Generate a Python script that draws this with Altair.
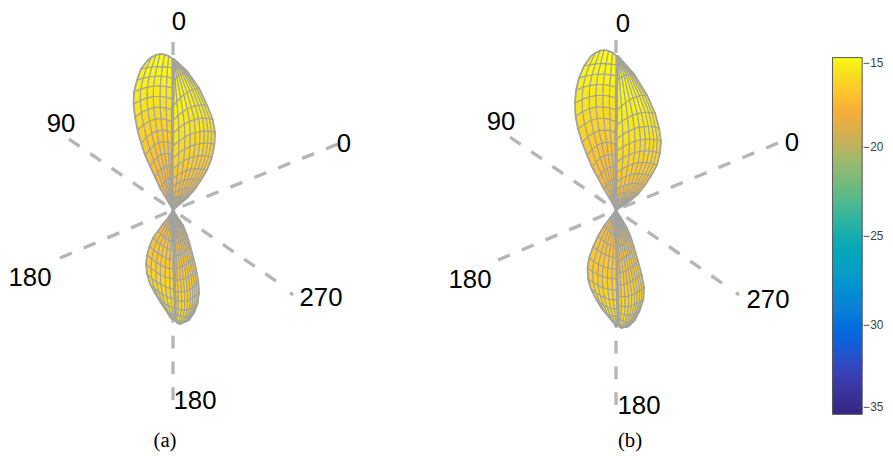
import altair as alt

# --- colour bar
BAR_VALUES = [-35, -30, -25, -20, -15]
SCALE_DOMAIN = [-35, -33, -31, -29, -27, -25, -23, -21, -20, -19, -18, -17, -16, -15]
SCALE_RANGE = ["#35277f", "#3a3bb0", "#0f5fdc", "#0d80d8", "#0a9ec6", "#14adae", "#52b98c",
               "#94ba70", "#bdb35e", "#dcb04c", "#f7ad38", "#ffc32e", "#f6dd20", "#f9fb15"]
BAR_TICK_Y = [145, 234, 323]

# --- spokes: each runs from its outer end to the panel's centre
AXES_A = [[(173, 40), (173, 208)], [(173, 398), (173, 208)], [(69, 137), (173, 208)],
          [(276, 279), (173, 208)], [(293, 293), (290, 290.5)], [(338, 142), (173, 208)],
          [(60, 256), (173, 208)]]
AXES_B = [[(616, 38), (616, 208)], [(616, 403), (616, 208)], [(510, 135), (616, 208)],
          [(722, 281), (616, 208)], [(739, 293), (736, 290.5)], [(778, 141), (616, 208)],
          [(498, 258), (616, 208)]]

LABELS = [("0", 179, 20), ("90", 61, 122), ("0", 344, 142), ("180", 30, 276),
          ("270", 321, 296), ("180", 195, 399),
          ("0", 623, 22), ("90", 501, 120), ("0", 792, 141), ("180", 470, 278),
          ("270", 768, 298), ("180", 639, 404)]
CAPTIONS = [("(a)", 165, 439), ("(b)", 630, 439)]

# --- lobes: rim and seam end of each parallel, apex first
UP_A_LEFT = [(173, 208), (166, 196), (160, 186), (155, 175), (150, 164), (145, 153), (141, 141),
             (137.5, 128), (135, 115), (133.5, 102), (134, 90), (137, 78), (141, 67), (147, 59)]
UP_A_LEFT_SEAM = [(173, 208), (172, 188), (172, 176), (172, 165), (172, 153), (172.5, 142), (172.5, 131),
                  (172.5, 120), (172.5, 108), (173, 97), (173, 86), (173, 76), (173, 66), (173, 57)]
UP_A_RIGHT = [(173, 208), (181, 201), (188, 195), (195, 187), (201, 178), (207, 168), (212, 155),
              (214.5, 142), (215, 130), (212.5, 117), (207, 103), (199, 86), (187, 69), (174, 57)]
UP_A_RIGHT_SEAM = [(173, 208), (172, 204), (172, 198), (172, 192), (172, 185), (172, 177), (172.5, 167),
                   (172.5, 156), (172.5, 144), (173, 131), (173, 118), (173, 104), (173, 80), (173, 57)]

LOW_A_LEFT = [(173, 208), (168, 216), (163, 222), (158, 229), (153, 236), (149.5, 244), (147, 253),
              (146, 262), (147, 272), (150, 282), (155, 291), (161, 301), (168, 311)]
LOW_A_LEFT_SEAM = [(173, 208), (173, 222), (173.5, 231), (173.5, 240), (174, 249), (174, 258), (174, 267),
                   (174.5, 277), (174.5, 287), (175, 297), (175, 306), (175, 313), (175, 316)]
LOW_A_RIGHT = [(173, 208), (178, 216), (183, 223), (187, 233), (190, 243), (193.5, 256), (196.5, 269),
               (198.5, 281), (199, 291), (197.5, 302), (194, 311), (189, 318), (182, 321)]
LOW_A_RIGHT_SEAM = [(173, 208), (173, 221), (173.5, 232), (173.5, 243), (174, 254), (174, 266), (174, 278),
                    (174.5, 289), (174.5, 298), (175, 306), (175, 312), (175, 316), (175, 318)]

UP_B_LEFT = [(616, 208), (610, 197), (604, 187), (598, 176), (592, 165), (587, 153), (582, 140),
             (578, 127), (575.5, 114), (575, 101), (576, 88), (579, 76), (584, 64), (591, 54)]
UP_B_LEFT_SEAM = [(616, 208), (616, 189), (616, 177), (616, 166), (616, 154), (616, 143), (616, 131),
                  (616.5, 120), (616.5, 108), (616.5, 96), (616.5, 85), (617, 74), (617, 63), (617, 54)]
UP_B_RIGHT = [(616, 208), (624, 203), (631, 198), (638, 192), (645, 183), (651, 174), (657, 163),
              (660, 151), (661, 139), (659, 126), (655, 111), (647, 93), (634, 72), (618, 54)]
UP_B_RIGHT_SEAM = [(616, 208), (616, 205), (616, 200), (616, 194), (616, 188), (616, 180), (616, 171),
                   (616.5, 160), (616.5, 149), (616.5, 137), (616.5, 123), (617, 108), (617, 78), (617, 54)]

LOW_B_LEFT = [(616, 208), (610, 216), (604, 224), (598, 234), (593, 245), (589, 256), (587.5, 266),
              (588, 277), (591, 287), (596, 297), (602, 307), (609, 315), (615, 321)]
LOW_B_LEFT_SEAM = [(616, 208), (616, 223), (616.5, 234), (616.5, 245), (617, 256), (617, 267), (617, 277),
                   (617.5, 288), (617.5, 298), (618, 307), (618, 314), (618, 319), (618, 322)]
LOW_B_RIGHT = [(616, 208), (621, 216), (626, 224), (630, 233), (634, 245), (638, 259), (641.5, 272),
               (644, 285), (643.5, 297), (640, 308), (635, 318), (629, 324), (623, 325)]
LOW_B_RIGHT_SEAM = [(616, 208), (616, 223), (616.5, 235), (616.5, 247), (617, 259), (617, 271), (617, 283),
                    (617.5, 294), (617.5, 303), (618, 310), (618, 316), (618, 320), (618, 322)]

# share of the way from seam to rim for each meridian
MERIDIANS_LEFT = [0, 0.17, 0.33, 0.5, 0.66, 0.83, 1]
MERIDIANS_RIGHT = [0, 0.15, 0.29, 0.42, 0.54, 0.65, 0.75, 0.84, 0.92, 1]

# sag of each parallel (pixels) and its value in dB, apex first
UP_BOW_LEFT = [0, -2, -3, -5, -6, -7, -7, -7, -6, -5, -4, -3, -2, -6]
UP_BOW_RIGHT = [0, -1, -2, -3, -4, -5, -6, -6, -6, -6, -5, -4, -2, 0]
UP_LEVEL = [-18, -17.8, -17.6, -17.4, -17.2, -17, -16.7, -16.4, -16.1, -15.8, -15.6, -15.4, -15.2, -15.1]
LOW_BOW_LEFT = [0, 1, 1, 2, 2, 3, 3, 3, 3, 3, 3, 3, 3]
LOW_BOW_RIGHT = [0, 1, 2, 2, 3, 3, 3, 4, 4, 4, 3, 3, 2]
LOW_LEVEL = [-18, -17.7, -17.5, -17.3, -17.1, -16.9, -16.8, -16.6, -16.4, -16.2, -16, -15.8, -15.6]

# The page squeezes a chart wider than its body, so the projection is stretched to compensate
PAGE_SCALE = 1.00912
PAGE_SHIFT = -8.07


def point(seam, rim, bow, t):
    return [seam[0] + t * (rim[0] - seam[0]),
            seam[1] + t * (rim[1] - seam[1]) + 4 * t * (1 - t) * bow]


def half(seam, rim, bows, levels, meridians):
    cells = []
    grid = [[point(s, r, b, t) for t in meridians] for s, r, b in zip(seam, rim, bows)]
    for i in range(len(grid) - 1):
        for k in range(len(meridians) - 1):
            ring = [grid[i][k], grid[i][k + 1], grid[i + 1][k + 1], grid[i + 1][k], grid[i][k]]
            cells.append({"type": "Feature", "properties": {"level": levels[i + 1]},
                          "geometry": {"type": "Polygon", "coordinates": [ring]}})
    edge = [g[-1] for g in grid] + grid[-1][::-1]
    return cells, {"type": "Feature", "properties": {},
                   "geometry": {"type": "LineString", "coordinates": edge}}


PIECES = [
    (UP_A_LEFT_SEAM, UP_A_LEFT, UP_BOW_LEFT, UP_LEVEL, MERIDIANS_LEFT),
    (UP_A_RIGHT_SEAM, UP_A_RIGHT, UP_BOW_RIGHT, UP_LEVEL, MERIDIANS_RIGHT),
    (LOW_A_LEFT_SEAM, LOW_A_LEFT, LOW_BOW_LEFT, LOW_LEVEL, MERIDIANS_LEFT),
    (LOW_A_RIGHT_SEAM, LOW_A_RIGHT, LOW_BOW_RIGHT, LOW_LEVEL, MERIDIANS_RIGHT),
    (UP_B_LEFT_SEAM, UP_B_LEFT, UP_BOW_LEFT, UP_LEVEL, MERIDIANS_LEFT),
    (UP_B_RIGHT_SEAM, UP_B_RIGHT, UP_BOW_RIGHT, UP_LEVEL, MERIDIANS_RIGHT),
    (LOW_B_LEFT_SEAM, LOW_B_LEFT, LOW_BOW_LEFT, LOW_LEVEL, MERIDIANS_LEFT),
    (LOW_B_RIGHT_SEAM, LOW_B_RIGHT, LOW_BOW_RIGHT, LOW_LEVEL, MERIDIANS_RIGHT),
]
cells, edges = [], []
for piece in PIECES:
    c, e = half(*piece)
    cells += c
    edges.append(e)


def lines(segments):
    return [{"type": "Feature", "properties": {},
             "geometry": {"type": "LineString", "coordinates": [list(p) for p in seg]}}
            for seg in segments]


seams = lines([UP_A_LEFT_SEAM, LOW_A_LEFT_SEAM, UP_B_LEFT_SEAM, LOW_B_LEFT_SEAM])

axes_layer = alt.Chart(alt.Data(values=lines(AXES_A + AXES_B))).mark_geoshape(
    filled=False, stroke="#b6b6b6", strokeWidth=3.4, strokeDash=[13, 13])

cell_layer = alt.Chart(alt.Data(values=cells)).mark_geoshape(
    stroke="#a3a39a", strokeWidth=1.1).encode(
    fill=alt.Fill("properties.level:Q",
                  scale=alt.Scale(domain=SCALE_DOMAIN, range=SCALE_RANGE),
                  legend=alt.Legend(
                      title=None, orient="none", legendX=832, legendY=48,
                      direction="vertical", gradientLength=360, gradientThickness=30,
                      values=BAR_VALUES, labelFontSize=12, labelColor="#404040",
                      labelFont="Liberation Sans", labelOffset=1, labelBaseline="middle",
                      gradientStrokeColor="#555555", gradientStrokeWidth=1)))

edge_layer = alt.Chart(alt.Data(values=edges)).mark_geoshape(
    filled=False, stroke="#a2a2a2", strokeWidth=1.7)

seam_layer = alt.Chart(alt.Data(values=seams)).mark_geoshape(
    filled=False, stroke="#a2a2a2", strokeWidth=3.2)

bar_ticks = alt.Chart(alt.Data(values=lines([((859, y), (863, y)) for y in BAR_TICK_Y]))).mark_geoshape(
    filled=False, stroke="#555555", strokeWidth=1)

label_layer = alt.Chart(alt.Data(values=[{"t": t, "x": x, "y": y} for t, x, y in LABELS])).mark_text(
    font="Liberation Sans", fontSize=26, color="#000000").encode(
    longitude="x:Q", latitude="y:Q", text="t:N")

caption_layer = alt.Chart(alt.Data(values=[{"t": t, "x": x, "y": y} for t, x, y in CAPTIONS])).mark_text(
    font="Liberation Serif", fontSize=21, color="#000000").encode(
    longitude="x:Q", latitude="y:Q", text="t:N")

chart = alt.layer(axes_layer, cell_layer, edge_layer, seam_layer, bar_ticks, label_layer, caption_layer).project(
    type="identity", scale=PAGE_SCALE, translate=[PAGE_SHIFT, PAGE_SHIFT]
).properties(width=885, height=452, padding=0, autosize=alt.AutoSizeParams(type="none"),
             background="white").configure_view(stroke=None)

chart.save("out.html", embed_options={"renderer": "svg", "actions": False})
